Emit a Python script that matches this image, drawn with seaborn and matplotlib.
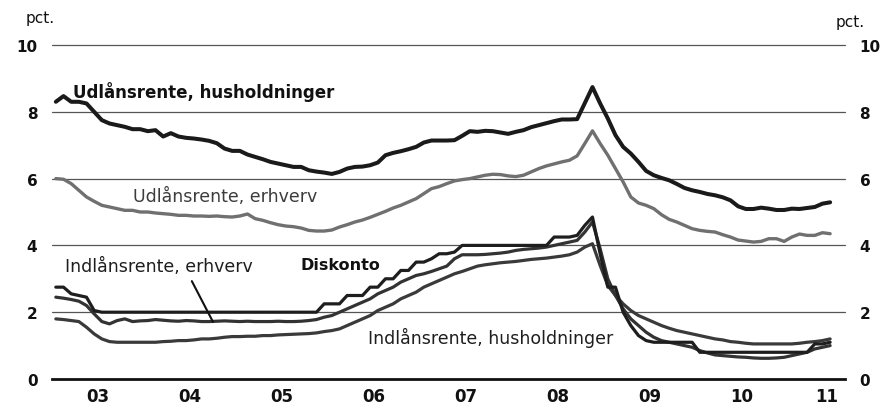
import numpy as np
import pandas as pd
import seaborn as sns
import matplotlib.pyplot as plt

# monthly data, Jan 2003 - Jun 2011 (pct.)
udlaan_hush = [8.30, 8.47, 8.30, 8.30, 8.25, 8.00, 7.75, 7.65, 7.60, 7.55, 7.48, 7.48,
               7.42, 7.45, 7.26, 7.36, 7.26, 7.22, 7.20, 7.17, 7.13, 7.06, 6.90, 6.83,
               6.83, 6.72, 6.65, 6.58, 6.50, 6.45, 6.40, 6.35, 6.35, 6.25, 6.21, 6.18,
               6.14, 6.20, 6.30, 6.35, 6.36, 6.40, 6.48, 6.70, 6.77, 6.82, 6.88, 6.95,
               7.08, 7.14, 7.14, 7.14, 7.15, 7.28, 7.42, 7.40, 7.43, 7.42, 7.38, 7.34,
               7.40, 7.45, 7.54, 7.60, 7.66, 7.72, 7.77, 7.77, 7.78, 8.26, 8.74, 8.25,
               7.80, 7.30, 6.95, 6.75, 6.50, 6.23, 6.10, 6.02, 5.95, 5.84, 5.72, 5.65,
               5.60, 5.54, 5.50, 5.44, 5.35, 5.17, 5.09, 5.09, 5.13, 5.10, 5.06, 5.06,
               5.10, 5.09, 5.12, 5.15, 5.25, 5.29]
udlaan_erhv = [6.00, 5.98, 5.85, 5.65, 5.45, 5.32, 5.20, 5.15, 5.10, 5.05, 5.05, 5.00,
               5.00, 4.97, 4.95, 4.93, 4.90, 4.90, 4.88, 4.88, 4.87, 4.88, 4.86, 4.85,
               4.88, 4.94, 4.80, 4.75, 4.68, 4.62, 4.58, 4.56, 4.52, 4.45, 4.43, 4.43,
               4.46, 4.55, 4.62, 4.70, 4.76, 4.84, 4.93, 5.02, 5.12, 5.20, 5.30, 5.40,
               5.55, 5.70, 5.76, 5.85, 5.93, 5.97, 6.00, 6.05, 6.10, 6.13, 6.12, 6.08,
               6.06, 6.10, 6.20, 6.30, 6.38, 6.44, 6.50, 6.55, 6.68, 7.05, 7.43, 7.05,
               6.70, 6.30, 5.90, 5.45, 5.27, 5.20, 5.10, 4.92, 4.78, 4.70, 4.60, 4.50,
               4.45, 4.42, 4.40, 4.32, 4.25, 4.16, 4.13, 4.10, 4.12, 4.20, 4.20, 4.12,
               4.25, 4.34, 4.30, 4.30, 4.38, 4.35]
diskonto = [2.75, 2.75, 2.55, 2.50, 2.45, 2.05, 2.00, 2.00, 2.00, 2.00, 2.00, 2.00,
            2.00, 2.00, 2.00, 2.00, 2.00, 2.00, 2.00, 2.00, 2.00, 2.00, 2.00, 2.00,
            2.00, 2.00, 2.00, 2.00, 2.00, 2.00, 2.00, 2.00, 2.00, 2.00, 2.00, 2.25,
            2.25, 2.25, 2.50, 2.50, 2.50, 2.75, 2.75, 3.00, 3.00, 3.25, 3.25, 3.50,
            3.50, 3.60, 3.75, 3.75, 3.80, 4.00, 4.00, 4.00, 4.00, 4.00, 4.00, 4.00,
            4.00, 4.00, 4.00, 4.00, 4.00, 4.25, 4.25, 4.25, 4.30, 4.60, 4.85, 3.75,
            2.75, 2.75, 2.00, 1.60, 1.30, 1.15, 1.10, 1.10, 1.10, 1.10, 1.10, 1.10,
            0.80, 0.80, 0.80, 0.80, 0.80, 0.80, 0.80, 0.80, 0.80, 0.80, 0.80, 0.80,
            0.80, 0.80, 0.80, 1.05, 1.05, 1.10]
indlaan_erhv = [2.45, 2.42, 2.38, 2.33, 2.20, 1.95, 1.72, 1.65, 1.75, 1.80, 1.72, 1.74,
                1.75, 1.78, 1.76, 1.74, 1.73, 1.75, 1.74, 1.72, 1.72, 1.73, 1.74, 1.73,
                1.72, 1.73, 1.72, 1.72, 1.72, 1.73, 1.72, 1.72, 1.73, 1.75, 1.78, 1.85,
                1.90, 2.00, 2.10, 2.20, 2.30, 2.40, 2.55, 2.65, 2.75, 2.90, 3.00, 3.10,
                3.15, 3.22, 3.30, 3.38, 3.60, 3.72, 3.72, 3.72, 3.73, 3.75, 3.77, 3.80,
                3.85, 3.88, 3.90, 3.92, 3.95, 4.00, 4.05, 4.10, 4.15, 4.40, 4.70, 3.90,
                3.00, 2.50, 2.10, 1.80, 1.60, 1.40, 1.25, 1.15, 1.10, 1.05, 1.00, 0.95,
                0.85, 0.78, 0.72, 0.70, 0.68, 0.66, 0.65, 0.63, 0.62, 0.62, 0.63, 0.65,
                0.70, 0.75, 0.80, 0.90, 0.95, 1.00]
indlaan_hush = [1.80, 1.78, 1.75, 1.72, 1.55, 1.35, 1.20, 1.12, 1.10, 1.10, 1.10, 1.10,
                1.10, 1.10, 1.12, 1.13, 1.15, 1.15, 1.17, 1.20, 1.20, 1.22, 1.25, 1.27,
                1.27, 1.28, 1.28, 1.30, 1.30, 1.32, 1.33, 1.34, 1.35, 1.36, 1.38, 1.42,
                1.45, 1.50, 1.60, 1.70, 1.80, 1.90, 2.05, 2.15, 2.25, 2.40, 2.50, 2.60,
                2.75, 2.85, 2.95, 3.05, 3.15, 3.22, 3.30, 3.38, 3.42, 3.45, 3.48, 3.50,
                3.52, 3.55, 3.58, 3.60, 3.62, 3.65, 3.68, 3.72, 3.80, 3.95, 4.05, 3.40,
                2.80, 2.50, 2.25, 2.05, 1.90, 1.80, 1.70, 1.60, 1.52, 1.45, 1.40, 1.35,
                1.30, 1.25, 1.20, 1.17, 1.12, 1.10, 1.07, 1.05, 1.05, 1.05, 1.05, 1.05,
                1.05, 1.07, 1.10, 1.12, 1.15, 1.20]

years = list(range(2003, 2012))
year_labels = ["03", "04", "05", "06", "07", "08", "09", "10", "11"]
x_end = 2011.62

months = np.arange(len(udlaan_hush))
df = pd.DataFrame({
    "tid": 2003 + (months + 0.5) / 12,
    "udlaan_hush": udlaan_hush,
    "udlaan_erhv": udlaan_erhv,
    "diskonto": diskonto,
    "indlaan_erhv": indlaan_erhv,
    "indlaan_hush": indlaan_hush,
})

sns.set_style("white")
plt.rcParams["font.family"] = ["DejaVu Sans"]

fig = plt.figure(figsize=(8.82, 4.10), dpi=100)
ax = fig.add_axes([52 / 882, 30 / 410, (845 - 52) / 882, 334 / 410])

for yv in [2, 4, 6, 8, 10]:
    ax.axhline(yv, color="#555555", lw=0.9, zorder=1, clip_on=False)

sns.lineplot(data=df, x="tid", y="indlaan_hush", ax=ax, color="#3a3a3a", lw=2.3, zorder=3)
sns.lineplot(data=df, x="tid", y="indlaan_erhv", ax=ax, color="#333333", lw=2.3, zorder=3)
sns.lineplot(data=df, x="tid", y="diskonto", ax=ax, color="#1e1e1e", lw=2.3, zorder=4)
sns.lineplot(data=df, x="tid", y="udlaan_erhv", ax=ax, color="#707070", lw=2.4, zorder=3)
sns.lineplot(data=df, x="tid", y="udlaan_hush", ax=ax, color="#1a1a1a", lw=2.9, zorder=4)

ax.set_xlim(2003, x_end)
ax.set_ylim(0, 10)
ax.set_xlabel("")
ax.set_ylabel("")

for s in ["top", "left", "right"]:
    ax.spines[s].set_visible(False)
ax.spines["bottom"].set_color("#111111")
ax.spines["bottom"].set_linewidth(2.0)
ax.spines["bottom"].set_zorder(5)

ax.set_yticks([0, 2, 4, 6, 8, 10])
ax.set_yticklabels(["0", "2", "4", "6", "8", "10"], fontsize=11, fontweight="bold", color="#111111")
ax.tick_params(axis="y", left=False, right=False, labelleft=True, labelright=True, pad=7)

ax.set_xticks(years[:-1] + [2011])
ax.set_xticklabels([])
ax.tick_params(axis="x", which="major", direction="out", length=4.5, width=1.5, color="#111111")
lab_pos = [y + 0.5 for y in years[:-1]] + [2011.42]
ax.set_xticks(lab_pos, minor=True)
ax.set_xticklabels(year_labels, minor=True, fontsize=12, fontweight="bold", color="#111111")
ax.tick_params(axis="x", which="minor", length=0, pad=6)

fig.text(40 / 882, 1 - 18 / 410, "pct.", ha="center", va="center", fontsize=11, color="#111111")
fig.text(850 / 882, 1 - 22 / 410, "pct.", ha="center", va="center", fontsize=11, color="#111111")

ax.text(2003.23, 8.62, "Udlånsrente, husholdninger", fontsize=12, fontweight="bold",
        color="#111111", va="center", ha="left")
ax.text(2003.88, 5.48, "Udlånsrente, erhverv", fontsize=12.5, color="#3c3c3c", va="center", ha="left")
ax.text(2003.14, 3.38, "Indlånsrente, erhverv", fontsize=12.5, color="#1e1e1e", va="center", ha="left")
ax.text(2005.70, 3.44, "Diskonto", fontsize=11.5, fontweight="bold", color="#111111", va="center", ha="left")
ax.text(2006.43, 1.26, "Indlånsrente, husholdninger", fontsize=12.5, color="#1e1e1e", va="center", ha="left")
ax.plot([2004.52, 2004.75], [2.93, 1.71], color="#111111", lw=1.5, zorder=5)

fig.savefig("out.png", dpi=100)
